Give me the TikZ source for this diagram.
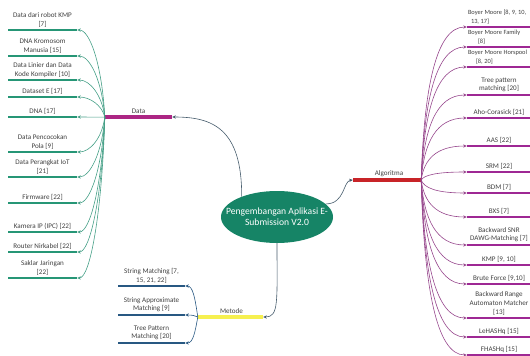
\documentclass[tikz,border=0pt]{standalone}
\usepackage{fontspec}
\setmainfont{Carlito}
\usetikzlibrary{arrows.meta,shapes.geometric}
\definecolor{tealleaf}{RGB}{38,150,118}
\definecolor{tealconn}{RGB}{70,160,135}
\definecolor{rootfill}{RGB}{22,132,102}
\definecolor{magdata}{RGB}{172,38,132}
\definecolor{redalg}{RGB}{200,36,40}
\definecolor{purpleaf}{RGB}{158,40,148}
\definecolor{purpconn}{RGB}{150,70,140}
\definecolor{yellowmet}{RGB}{246,240,80}
\definecolor{blueleaf}{RGB}{40,88,130}
\definecolor{mainconn}{RGB}{70,92,108}
\definecolor{txt}{RGB}{64,64,64}
\begin{document}
\begin{tikzpicture}[x=1pt,y=-1pt,
  font=\fontsize{7.1}{8.8}\selectfont,
  bar/.style={rectangle, inner sep=0pt, minimum height=2.9pt, draw=none},
  lab/.style={text=txt, align=center, inner sep=1pt},
  dleaf/.style={bar, fill=tealleaf, minimum width=69pt},
  aleaf/.style={bar, fill=purpleaf, minimum width=64pt},
  mleaf/.style={bar, fill=blueleaf, minimum width=67pt},
  tip/.style={-{Stealth[length=3.6pt,width=3.2pt]}},
  dconn/.style={tip, draw=tealconn, line width=0.6pt},
  aconn/.style={tip, draw=purpconn, line width=0.6pt},
  mconn/.style={tip, draw=blueleaf, line width=0.6pt},
  rconn/.style={tip, draw=mainconn, line width=0.6pt}]
\useasboundingbox (0,0) rectangle (530,356);

% root
\node[ellipse, fill=rootfill, minimum width=112pt, minimum height=52pt, inner sep=0pt] (root) at (277,217) {};
\node[text=white, align=center, font=\fontsize{9.6}{11}\selectfont, inner sep=0pt] (roottext) at (277,217) {Pengembangan Aplikasi E-\\Submission V2.0};

% main branches
\node[bar, fill=magdata, minimum width=67pt, minimum height=3.2pt, label={[lab]above:Data}] (data) at (138.5,117) {};
\node[bar, fill=redalg, minimum width=68pt, minimum height=3.2pt, label={[lab, xshift=2pt]above:Algoritma}] (alg) at (387,180) {};
\node[bar, fill=yellowmet, minimum width=65pt, minimum height=3.2pt, label={[lab, xshift=1pt]above:Metode}] (met) at (230.5,317) {};

\draw[rconn] (root.150) .. controls (242,128) and (212,117) .. (data.east);
\draw[rconn] (root.15) .. controls (345,204) and (343,181) .. (alg.west);
\draw[rconn] (root.south) .. controls (277,302) and (279,317) .. (met.east);

% Data leaves
\foreach \n/\y/\t in {
  d1/30/{Data dari robot KMP\\{}[7]},
  d2/56/{DNA Kromosom\\Manusia [15]},
  d3/80/{Data Linier dan Data\\Kode Kompiler [10]},
  d4/97/{Dataset E [17]},
  d5/117/{DNA [17]},
  d6/152/{Data Pencocokan\\Pola [9]},
  d7/177/{Data Perangkat IoT\\{}[21]},
  d8/203/{Firmware [22]},
  d9/232/{Kamera IP (IPC) [22]},
  d10/252/{Router Nirkabel [22]},
  d11/278/{Saklar Jaringan\\{}[22]}}{
  \node[dleaf, label={[lab]above:\t}] (\n) at (42.5,\y) {};
  \draw[dconn] (data.west) .. controls (102,{118+0.6*(\y-118)}) and (90,\y) .. (\n.east);
}

% Algoritma leaves
\foreach \n/\y/\t in {
  a4/95/{Tree pattern\\matching [20]},
  a5/118/{Aho-Corasick [21]},
  a6/146/{AAS [22]},
  a7/172/{SRM [22]},
  a8/193/{BDM [7]},
  a9/217/{BXS [7]},
  a10/245/{Backward SNR\\DAWG-Matching [7]},
  a11/265/{KMP [9, 10]},
  a12/284/{Brute Force [9,10]},
  a13/318/{Backward Range\\Automaton Matcher\\{}[13]},
  a14/337/{LeHASHq [15]},
  a15/355/{FHASHq [15]}}{
  \node[aleaf, label={[lab]above:\t}] (\n) at (499,\y) {};
  \draw[aconn] (alg.east) .. controls (424,{180+0.6*(\y-180)}) and (436,\y) .. (\n.west);
}
\foreach \n/\y/\t in {
  a1/27/{Boyer Moore [8, 9, 10,\\\hspace*{3pt}13, 17]},
  a2/47/{Boyer Moore Family\\\hspace*{10pt}[8]},
  a3/67/{Boyer Moore Horspool\\\hspace*{8pt}[8, 20]}}{
  \node[aleaf, label={[lab, align=left, anchor=south west, font=\fontsize{6.4}{8.6}\selectfont]north west:\t}] (\n) at (499,\y) {};
  \draw[aconn] (alg.east) .. controls (424,{180+0.6*(\y-180)}) and (436,\y) .. (\n.west);
}

% Metode leaves
\foreach \n/\y/\t in {
  m1/286/{String Matching [7,\\15, 21, 22]},
  m2/315/{String Approximate\\Matching [9]},
  m3/343/{Tree Pattern\\Matching [20]}}{
  \node[mleaf, label={[lab]above:\t}] (\n) at (151.5,\y) {};
  \draw[mconn] (met.west) .. controls (195,{317+0.6*(\y-317)}) and (193,\y) .. (\n.east);
}
\end{tikzpicture}
\end{document}
